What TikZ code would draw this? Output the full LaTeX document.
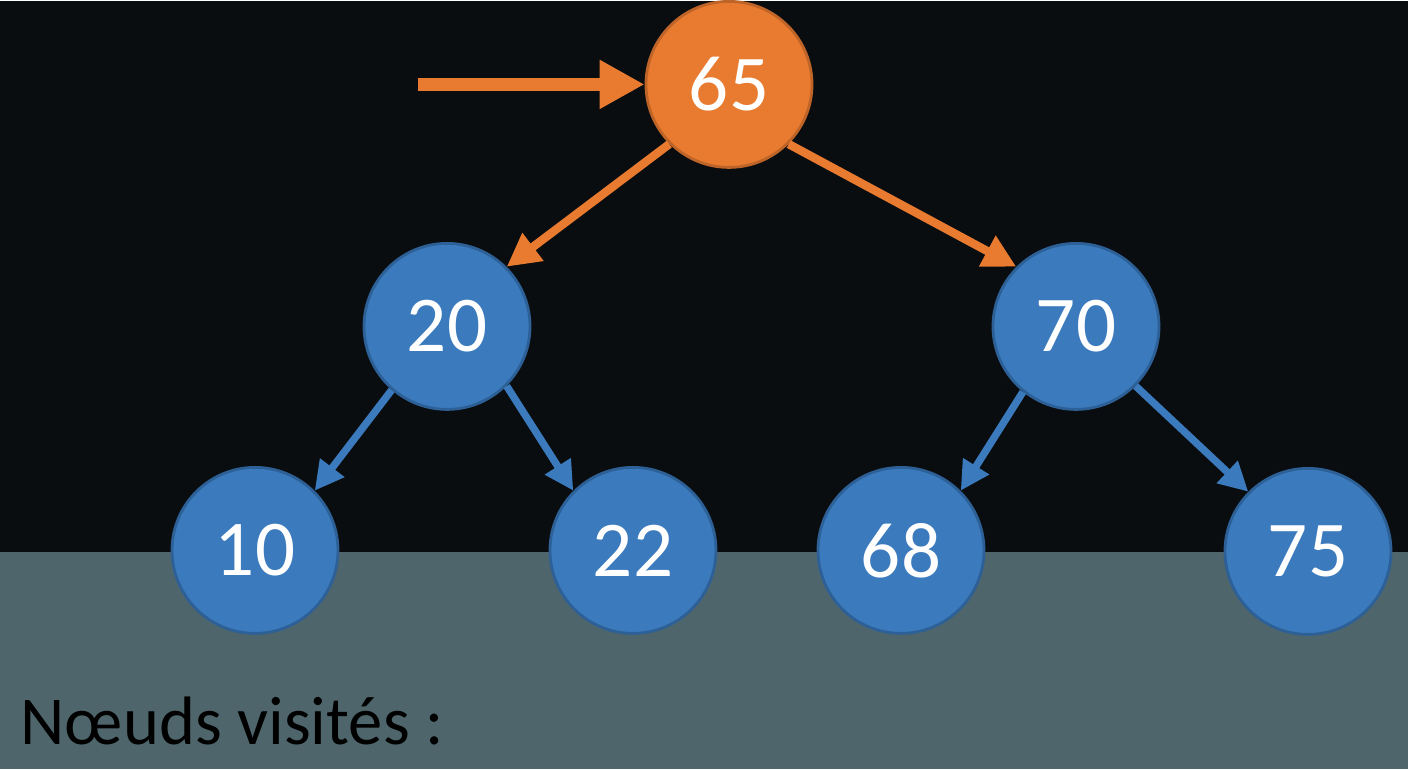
\documentclass[tikz,border=0pt]{standalone}
\usepackage{fontspec}
\setmainfont{Carlito}
\usepackage{xcolor}
\usepackage{tikz}
\usetikzlibrary{arrows.meta}
\definecolor{kdark}{HTML}{0A0D10}
\definecolor{kband}{HTML}{4E666B}
\definecolor{korange}{HTML}{E87B2F}
\definecolor{korangeline}{HTML}{BF6428}
\definecolor{kblue}{HTML}{3B7BBD}
\definecolor{kblueline}{HTML}{2D6096}

\tikzset{
  treenode/.style={circle, minimum size=1.66cm, inner sep=0pt, line width=0.8pt,
    font=\fontsize{22.5}{26}\selectfont, text=white},
  visited/.style={treenode, fill=korange, draw=korangeline},
  pending/.style={treenode, fill=kblue, draw=kblueline},
  orangelink/.style={draw=korange, line width=2.4pt,
    -{Triangle[length=0.33cm, width=0.33cm]}},
  bluelink/.style={draw=kblue, line width=2.1pt,
    -{Triangle[length=0.29cm, width=0.29cm]}}
}

\begin{document}
\begin{tikzpicture}[x=1cm, y=1cm]
\fill[kdark] (0,0) rectangle (14.08,7.68);
\fill[kband] (0,0) rectangle (14.08,2.17);
% tree
\node[visited] (n65) at (7.29,6.85) {65};
\node[pending] (n20) at (4.47,4.43) {20};
\node[pending] (n70) at (10.76,4.43) {70};
\node[pending] (n10) at (2.55,2.19) {10};
\node[pending] (n22) at (6.33,2.19) {22};
\node[pending] (n68) at (9.01,2.19) {68};
\node[pending] (n75) at (13.08,2.18) {75};
\coordinate (start) at (4.18,6.85);
\draw[draw=korange, line width=3.7pt, -{Triangle[length=0.45cm, width=0.46cm]}]
  (start) -- (n65);
\draw[orangelink] (n65.south west) -- (n20.north east);
\draw[orangelink] (n65.south east) -- (n70.north west);
\draw[bluelink] (n20.229) -- (n10.north east);
\draw[bluelink] (n20.south east) -- (n22.north west);
\draw[bluelink] (n70.231) -- (n68.north east);
\draw[bluelink] (n70.south east) -- (n75.north west);
\node[font=\fontsize{19.5}{23}\selectfont, text=black, anchor=base west, inner sep=0pt]
  (visits) at (0.2,0.25) {Nœuds visités :};
\end{tikzpicture}
\end{document}
